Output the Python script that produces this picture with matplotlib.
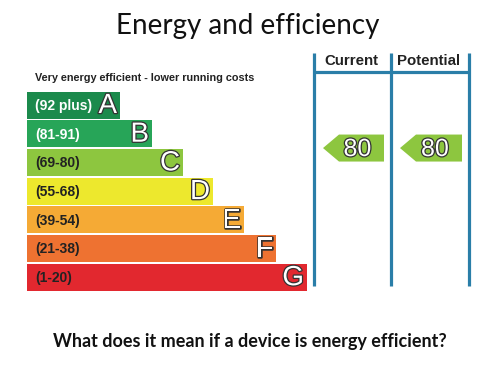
import matplotlib
matplotlib.use("Agg")
import matplotlib.pyplot as plt
import matplotlib.patheffects as pe

# ---- data ----
letters = ["A", "B", "C", "D", "E", "F", "G"]
ranges = ["(92 plus)", "(81-91)", "(69-80)", "(55-68)", "(39-54)", "(21-38)", "(1-20)"]
bar_lengths = [93, 125, 156, 186, 217, 249, 280]
bar_colors = ["#1b8a4c", "#27a558", "#8dc63f", "#ede82d", "#f5aa35", "#ee7231", "#e2282f"]
label_colors = ["white", "white", "#222222", "#222222", "#222222", "#222222", "#222222"]
columns = ["Current", "Potential"]
ratings = [80, 80]

title = "Energy and efficiency"
header = "Very energy efficient - lower running costs"
question = "What does it mean if a device is energy efficient?"

fig = plt.figure(figsize=(5, 3.75), dpi=100)
ax = fig.add_axes([0, 0, 1, 1])
ax.set_xlim(0, 500)
ax.set_ylim(375, 0)
ax.axis("off")

bar_left = 27
row0 = 105
row_step = 28.7
bar_h = 27
ys = [row0 + i * row_step for i in range(len(letters))]

ax.barh(ys, bar_lengths, left=bar_left, height=bar_h, color=bar_colors, edgecolor="none")

stroke = [pe.withStroke(linewidth=1.8, foreground="#333333")]
for y, L, r, n, lc in zip(ys, letters, ranges, bar_lengths, label_colors):
    ax.text(bar_left + 8, y + 1, r, fontsize=10, fontweight="bold", family="Liberation Sans",
            color=lc, ha="left", va="center")
    ax.text(bar_left + n - 3, y + 1, L, fontsize=20, family="Liberation Sans",
            color="white", ha="right", va="center", path_effects=stroke)

ax.text(35, 78, header, fontsize=7.8, fontweight="bold", family="Liberation Sans",
        color="#222222", ha="left", va="center")

# right-hand table
line_color = "#2a7ea8"
col_x = [314, 391, 469]
for x in col_x:
    ax.plot([x, x], [53, 286], color=line_color, lw=2.3, solid_capstyle="butt")
ax.plot([col_x[0], col_x[-1]], [72, 72], color=line_color, lw=2.3, solid_capstyle="butt")

for i, (c, v) in enumerate(zip(columns, ratings)):
    left, right = col_x[i], col_x[i + 1]
    ax.text((left + right) / 2 - 1, 61, c, fontsize=10.8, fontweight="bold",
            family="Liberation Sans", color="#222222", ha="center", va="center")
    # position the arrow from the rating band (C: 69-80, upper end)
    yc = ys[2] - row_step / 2
    tip = left + 9
    body_l = tip + 16
    body_r = right - 7
    h = bar_h / 2
    ax.fill([tip, body_l, body_r, body_r, body_l], [yc, yc - h, yc - h, yc + h, yc + h],
            color="#8dc63f", lw=0)
    ax.text((body_l + body_r) / 2 - 4, yc + 1, str(v), fontsize=18, family="Liberation Sans",
            color="white", ha="center", va="center", path_effects=stroke)

ax.text(248, 26, title, fontsize=20, family="Lato", color="#111111", ha="center", va="center")
ax.text(250, 341, question, fontsize=13, fontweight="bold", family="Lato",
        color="#111111", ha="center", va="center")

fig.savefig("out.png", dpi=100)
